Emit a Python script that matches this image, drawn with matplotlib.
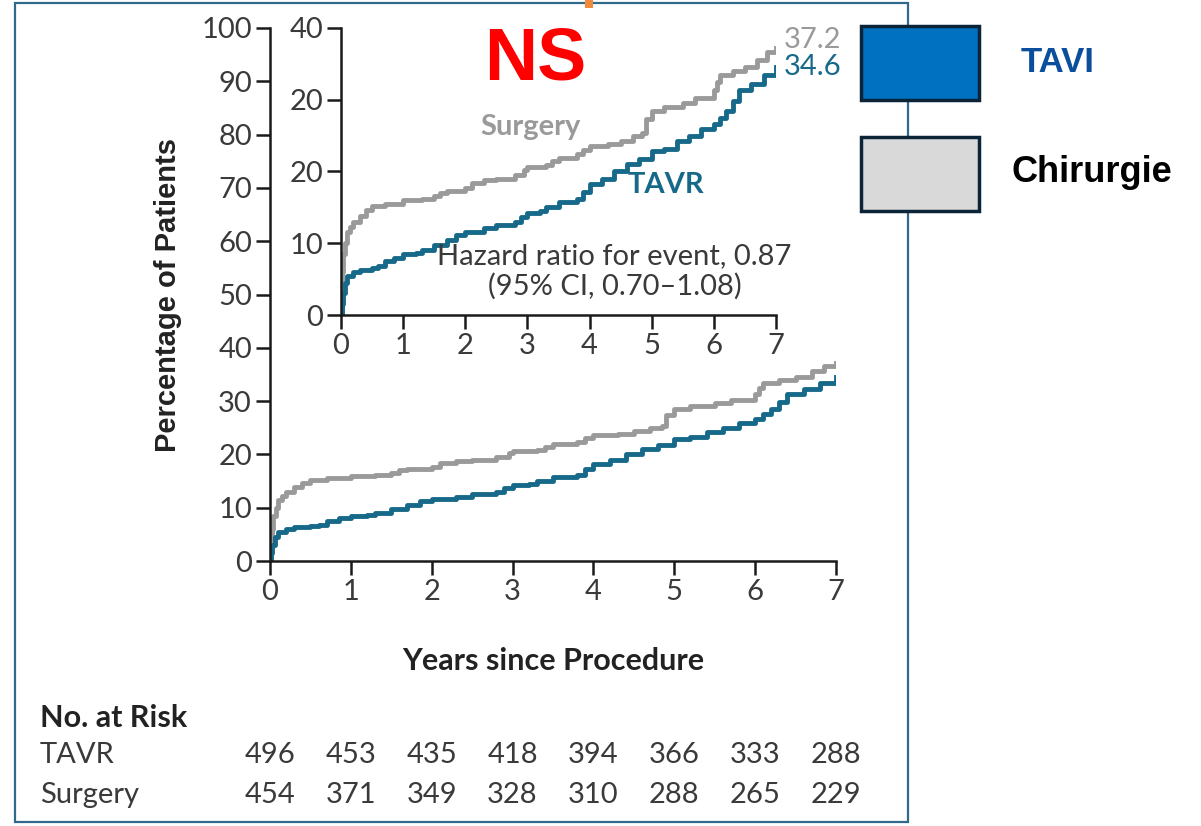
import matplotlib.pyplot as plt
from matplotlib.patches import Rectangle

# données (courbes de Kaplan-Meier, %)
surg_t = [0, 0.01, 0.02, 0.04, 0.07, 0.1, 0.15, 0.2, 0.3, 0.4, 0.5, 0.7, 1.0, 1.3, 1.5, 1.6, 1.7, 2.0,
          2.1, 2.3, 2.5, 2.8, 2.95, 3.0, 3.3, 3.4, 3.5, 3.8, 3.9, 4.0, 4.3, 4.5, 4.7, 4.85, 4.9, 5.0,
          5.2, 5.5, 5.7, 6.0, 6.05, 6.1, 6.3, 6.5, 6.7, 6.85, 7.0]
surg_v = [0, 3, 6, 8.5, 10, 11.5, 12.2, 12.9, 13.8, 14.6, 15.2, 15.5, 16.0, 16.2, 16.6, 17.0, 17.3, 17.7,
          18.4, 18.8, 19.0, 19.5, 20.2, 20.6, 20.9, 21.4, 21.9, 22.4, 23.0, 23.6, 23.9, 24.3, 24.9, 25.3, 27.3, 28.5,
          29.0, 29.6, 30.3, 31.3, 32.5, 33.4, 34.0, 34.6, 35.6, 36.6, 37.2]
tavr_t = [0, 0.01, 0.03, 0.06, 0.1, 0.2, 0.3, 0.5, 0.6, 0.7, 0.85, 1.0, 1.2, 1.3, 1.5, 1.7, 1.85, 2.0,
          2.3, 2.5, 2.8, 2.9, 3.0, 3.2, 3.3, 3.5, 3.8, 3.9, 4.0, 4.2, 4.4, 4.6, 4.8, 5.0, 5.2, 5.4,
          5.6, 5.8, 6.0, 6.1, 6.2, 6.3, 6.4, 6.6, 6.8, 7.0]
tavr_v = [0, 1.5, 3.0, 4.5, 5.5, 6.0, 6.3, 6.5, 6.8, 7.5, 8.0, 8.5, 8.7, 9.0, 9.7, 10.5, 11.2, 11.6,
          12.1, 12.5, 13.0, 13.7, 14.2, 14.5, 15.0, 15.8, 16.1, 17.2, 18.2, 19.0, 20.0, 21.0, 21.8, 22.8, 23.2, 24.2,
          25.0, 25.9, 26.6, 27.5, 28.5, 29.8, 31.3, 32.2, 33.4, 34.6]

years = [0, 1, 2, 3, 4, 5, 6, 7]
risk_tavr = [496, 453, 435, 418, 394, 366, 333, 288]
risk_surg = [454, 371, 349, 328, 310, 288, 265, 229]
main_yticks = [0, 10, 20, 30, 40, 50, 60, 70, 80, 90, 100]
inset_yticks = [0, 10, 20, 30, 40]
inset_ylabels = ['0', '10', '20', '20', '40']

GRIS = '#9a9a9a'
BLEU = '#17698a'
TXT = '#3a3a3a'
NARROW = ['Lato', 'DejaVu Sans']
ARIAL = ['Liberation Sans', 'DejaVu Sans']

fig = plt.figure(figsize=(12.01, 8.26), dpi=100)
W, H = 1201, 826


def rect(l, t, r, b):
    return [l / W, 1 - b / H, (r - l) / W, (b - t) / H]


def style_axes(ax):
    for s in ['top', 'right']:
        ax.spines[s].set_visible(False)
    for s in ['left', 'bottom']:
        ax.spines[s].set_linewidth(1.8)
        ax.spines[s].set_color('#1a1a1a')
    ax.tick_params(direction='out', length=10, width=1.8, color='#1a1a1a',
                   labelsize=21, labelcolor=TXT, pad=3)
    for lab in ax.get_xticklabels() + ax.get_yticklabels():
        lab.set_family(NARROW)


# cadre
fig.patches.append(Rectangle((15 / W, 1 - 822 / H), 893 / W, 819 / H, transform=fig.transFigure,
                             fill=False, edgecolor='#2f6a8c', lw=1.6))
fig.patches.append(Rectangle((585 / W, 1 - 8 / H), 8 / W, 8 / H, transform=fig.transFigure,
                             facecolor='#f08a3c', edgecolor='none'))

# graphique principal
ax = fig.add_axes(rect(270, 28, 836, 561))
ax.step(surg_t, surg_v, where='post', color=GRIS, lw=3.5)
ax.step(tavr_t, tavr_v, where='post', color=BLEU, lw=3.5)
ax.set_xlim(0, 7)
ax.set_ylim(0, 100)
ax.set_xticks(years)
ax.set_yticks(main_yticks)
style_axes(ax)
ax.set_xlabel('Years since Procedure', family=NARROW, fontsize=22, color='#222222',
              fontweight='bold', labelpad=30)
ax.set_ylabel('Percentage of Patients', family=ARIAL, fontsize=21, color='#222222',
              fontweight='bold', labelpad=14)

# encart
ax2 = fig.add_axes(rect(341, 28, 776, 315))
ax2.step(surg_t, surg_v, where='post', color=GRIS, lw=3.5)
ax2.step(tavr_t, tavr_v, where='post', color=BLEU, lw=3.5)
ax2.set_xlim(0, 7)
ax2.set_ylim(0, 40)
ax2.set_xticks(years)
ax2.set_yticks(inset_yticks)
ax2.set_yticklabels(inset_ylabels)
ax2.patch.set_alpha(0)
style_axes(ax2)
ax2.text(3.05, 26.2, 'Surgery', color=GRIS, fontsize=21, family=NARROW, fontweight='bold',
         ha='center', va='center')
ax2.text(5.23, 18.1, 'TAVR', color=BLEU, fontsize=21, family=NARROW, fontweight='bold',
         ha='center', va='center')
ax2.text(4.4, 6.1, 'Hazard ratio for event, 0.87\n(95% CI, 0.70\u20131.08)', color=TXT,
         fontsize=21, family=NARROW, ha='center', va='center', linespacing=1.2)
ax2.text(7.12, 38.3, '37.2', color=GRIS, fontsize=21, family=NARROW, ha='left', va='center',
         clip_on=False)
ax2.text(7.12, 34.6, '34.6', color=BLEU, fontsize=21, family=NARROW, ha='left', va='center',
         clip_on=False)

fig.text(535 / W, 1 - 61 / H, 'NS', color='#ff0000', fontsize=53, family=ARIAL,
         fontweight='bold', ha='center', va='center')

# nombre à risque
fig.text(40 / W, 1 - 718 / H, 'No. at Risk', family=NARROW, fontsize=22, fontweight='bold',
         color='#222222', va='center')
fig.text(40 / W, 1 - 755 / H, 'TAVR', family=NARROW, fontsize=21, color=TXT, va='center')
fig.text(40 / W, 1 - 795 / H, 'Surgery', family=NARROW, fontsize=21, color=TXT, va='center')
for yr, a, b in zip(years, risk_tavr, risk_surg):
    xf = ax.transData.transform((yr, 0))[0] / W
    fig.text(xf, 1 - 755 / H, str(a), family=NARROW, fontsize=21, color=TXT,
             ha='center', va='center')
    fig.text(xf, 1 - 795 / H, str(b), family=NARROW, fontsize=21, color=TXT,
             ha='center', va='center')

# légende
fig.patches.append(Rectangle((861 / W, 1 - 100 / H), 118 / W, 74 / H, transform=fig.transFigure,
                             facecolor='#0070c0', edgecolor='#0b2438', lw=2.5))
fig.patches.append(Rectangle((861 / W, 1 - 211 / H), 118 / W, 74 / H, transform=fig.transFigure,
                             facecolor='#d9d9d9', edgecolor='#0b2438', lw=2.5))
fig.text(1058 / W, 1 - 62 / H, 'TAVI', color='#0b4f9c', fontsize=25, family=ARIAL,
         fontweight='bold', ha='center', va='center')
fig.text(1092 / W, 1 - 172 / H, 'Chirurgie', color='black', fontsize=26, family=ARIAL,
         fontweight='bold', ha='center', va='center')

fig.savefig('out.png', dpi=100)
